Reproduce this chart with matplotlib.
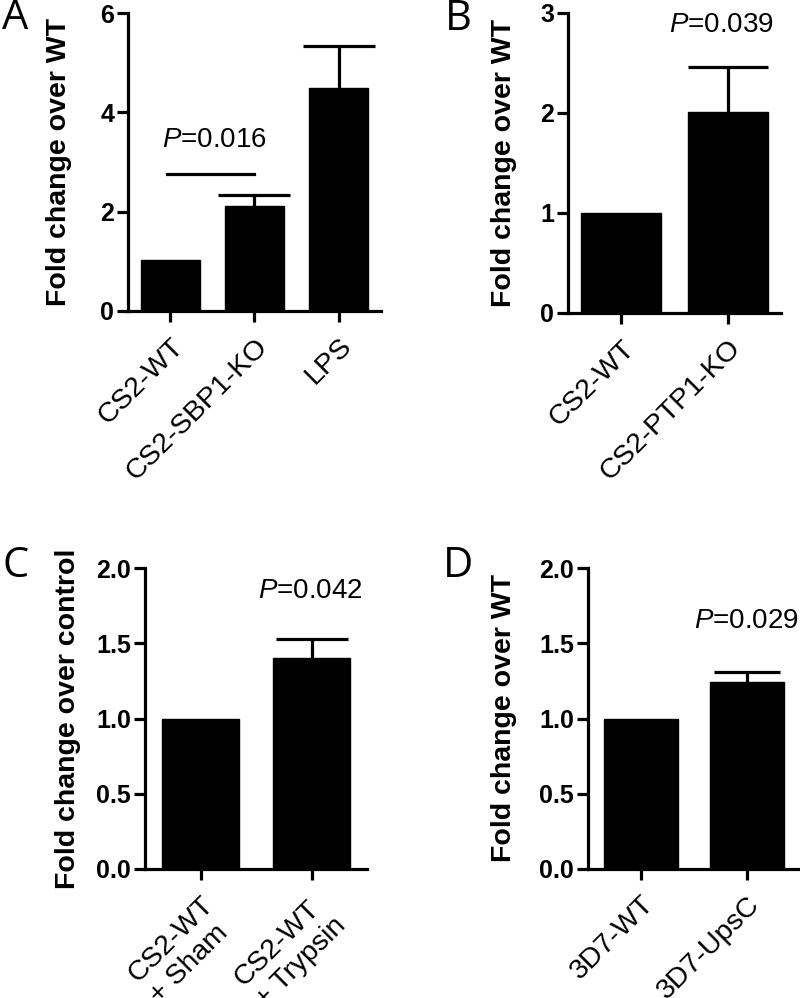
import numpy as np
import matplotlib
matplotlib.use('Agg')
import matplotlib.pyplot as plt
from matplotlib.transforms import ScaledTranslation

plt.rcParams['font.family'] = ['Liberation Sans', 'DejaVu Sans']
plt.rcParams['mathtext.fontset'] = 'custom'
plt.rcParams['mathtext.it'] = 'Liberation Sans:italic'
plt.rcParams['mathtext.rm'] = 'Liberation Sans'

# panel A
a_cats = ['CS2-WT', 'CS2-SBP1-KO', 'LPS']
a_vals = [1.03, 2.11, 4.49]
a_err = [0, 0.22, 0.84]
a_ticks = [0, 2, 4, 6]

# panel B
b_cats = ['CS2-WT', 'CS2-PTP1-KO']
b_vals = [1.0, 2.01]
b_err = [0, 0.45]
b_ticks = [0, 1, 2, 3]

# panel C
c_cats = ['CS2-WT\n+ Sham', 'CS2-WT\n+ Trypsin']
c_vals = [1.0, 1.40]
c_err = [0, 0.13]
c_ticks = [0.0, 0.5, 1.0, 1.5, 2.0]

# panel D
d_cats = ['3D7-WT', '3D7-UpsC']
d_vals = [1.0, 1.24]
d_err = [0, 0.07]
d_ticks = [0.0, 0.5, 1.0, 1.5, 2.0]

W, H = 800, 998
fig = plt.figure(figsize=(W / 100, H / 100), dpi=100)


def px_axes(l, t, r, b):
    return fig.add_axes([l / W, 1 - b / H, (r - l) / W, (b - t) / H])


def bar_panel(ax, cats, vals, err, ticks, ylabel, fmt, width, capsize, shift):
    x = np.arange(len(cats))
    vals = np.asarray(vals)
    err = np.asarray(err)
    ax.bar(x, vals, width=width, color='black', edgecolor='black', zorder=3)
    # upper error bars only, for bars that have one
    m = err > 0
    eb = ax.errorbar(x[m], vals[m], yerr=[np.zeros(m.sum()), err[m]], fmt='none',
                     ecolor='black', elinewidth=2.3, capsize=capsize,
                     capthick=2.3, zorder=2)
    eb[1][0].set_visible(False)  # lower caps
    ax.set_xlim(-0.5, len(cats) - 0.5)
    ax.set_ylim(ticks[0], ticks[-1])
    ax.set_yticks(ticks)
    ax.set_yticklabels([fmt.format(t) for t in ticks], fontsize=18,
                       fontweight='bold')
    ax.set_xticks(x)
    ax.set_xticklabels(cats, rotation=45, ha='right', rotation_mode='anchor',
                       fontsize=20.5, multialignment='left')
    off = ScaledTranslation(shift[0] / 100, shift[1] / 100, fig.dpi_scale_trans)
    for lab in ax.get_xticklabels():
        lab.set_transform(lab.get_transform() + off)
    for s in ['top', 'right']:
        ax.spines[s].set_visible(False)
    for s in ['left', 'bottom']:
        ax.spines[s].set_linewidth(2.3)
    ax.tick_params(axis='both', width=2.3, length=8, direction='out')
    ax.tick_params(axis='x', pad=8)
    ax.tick_params(axis='y', pad=2)
    ax.set_ylabel(ylabel, fontsize=20.5, fontweight='bold')


axA = px_axes(128, 13, 381, 311)
bar_panel(axA, a_cats, a_vals, a_err, a_ticks, 'Fold change over WT', '{:g}', 0.7, 26, (13, -5))
axA.plot([-0.04, 1.0], [2.76, 2.76], color='black', lw=2.3)
axA.text(0.53, 3.44, r'$\mathit{P}$=0.016', fontsize=20, ha='center', va='center')
axA.yaxis.set_label_coords(-0.22, 0.5)

axB = px_axes(568, 13, 781, 313)
bar_panel(axB, b_cats, b_vals, b_err, b_ticks, 'Fold change over WT', '{:g}', 0.75, 29, (13, -5))
axB.text(0.94, 2.88, r'$\mathit{P}$=0.039', fontsize=20, ha='center', va='center',
         clip_on=False)
axB.yaxis.set_label_coords(-0.24, 0.5)

axC = px_axes(145, 568, 367, 869)
bar_panel(axC, c_cats, c_vals, c_err, c_ticks, 'Fold change over control', '{:.1f}', 0.7, 26, (4, 2))
axC.text(0.99, 1.85, r'$\mathit{P}$=0.042', fontsize=20, ha='center', va='center')
axC.yaxis.set_label_coords(-0.29, 0.5)

axD = px_axes(588, 568, 800, 869)
bar_panel(axD, d_cats, d_vals, d_err, d_ticks, 'Fold change over WT', '{:.1f}', 0.7, 24, (13, -5))
axD.text(0.99, 1.65, r'$\mathit{P}$=0.029', fontsize=20, ha='center', va='center',
         clip_on=False)
axD.yaxis.set_label_coords(-0.335, 0.5)

# panel letters
for lab, xp, yp in [('A', 15, 18), ('B', 458, 19), ('C', 16, 566), ('D', 458, 566)]:
    fig.text(xp / W, 1 - yp / H, lab, fontsize=30, family='Open Sans',
             ha='center', va='center')

fig.savefig('out.png', dpi=100)
